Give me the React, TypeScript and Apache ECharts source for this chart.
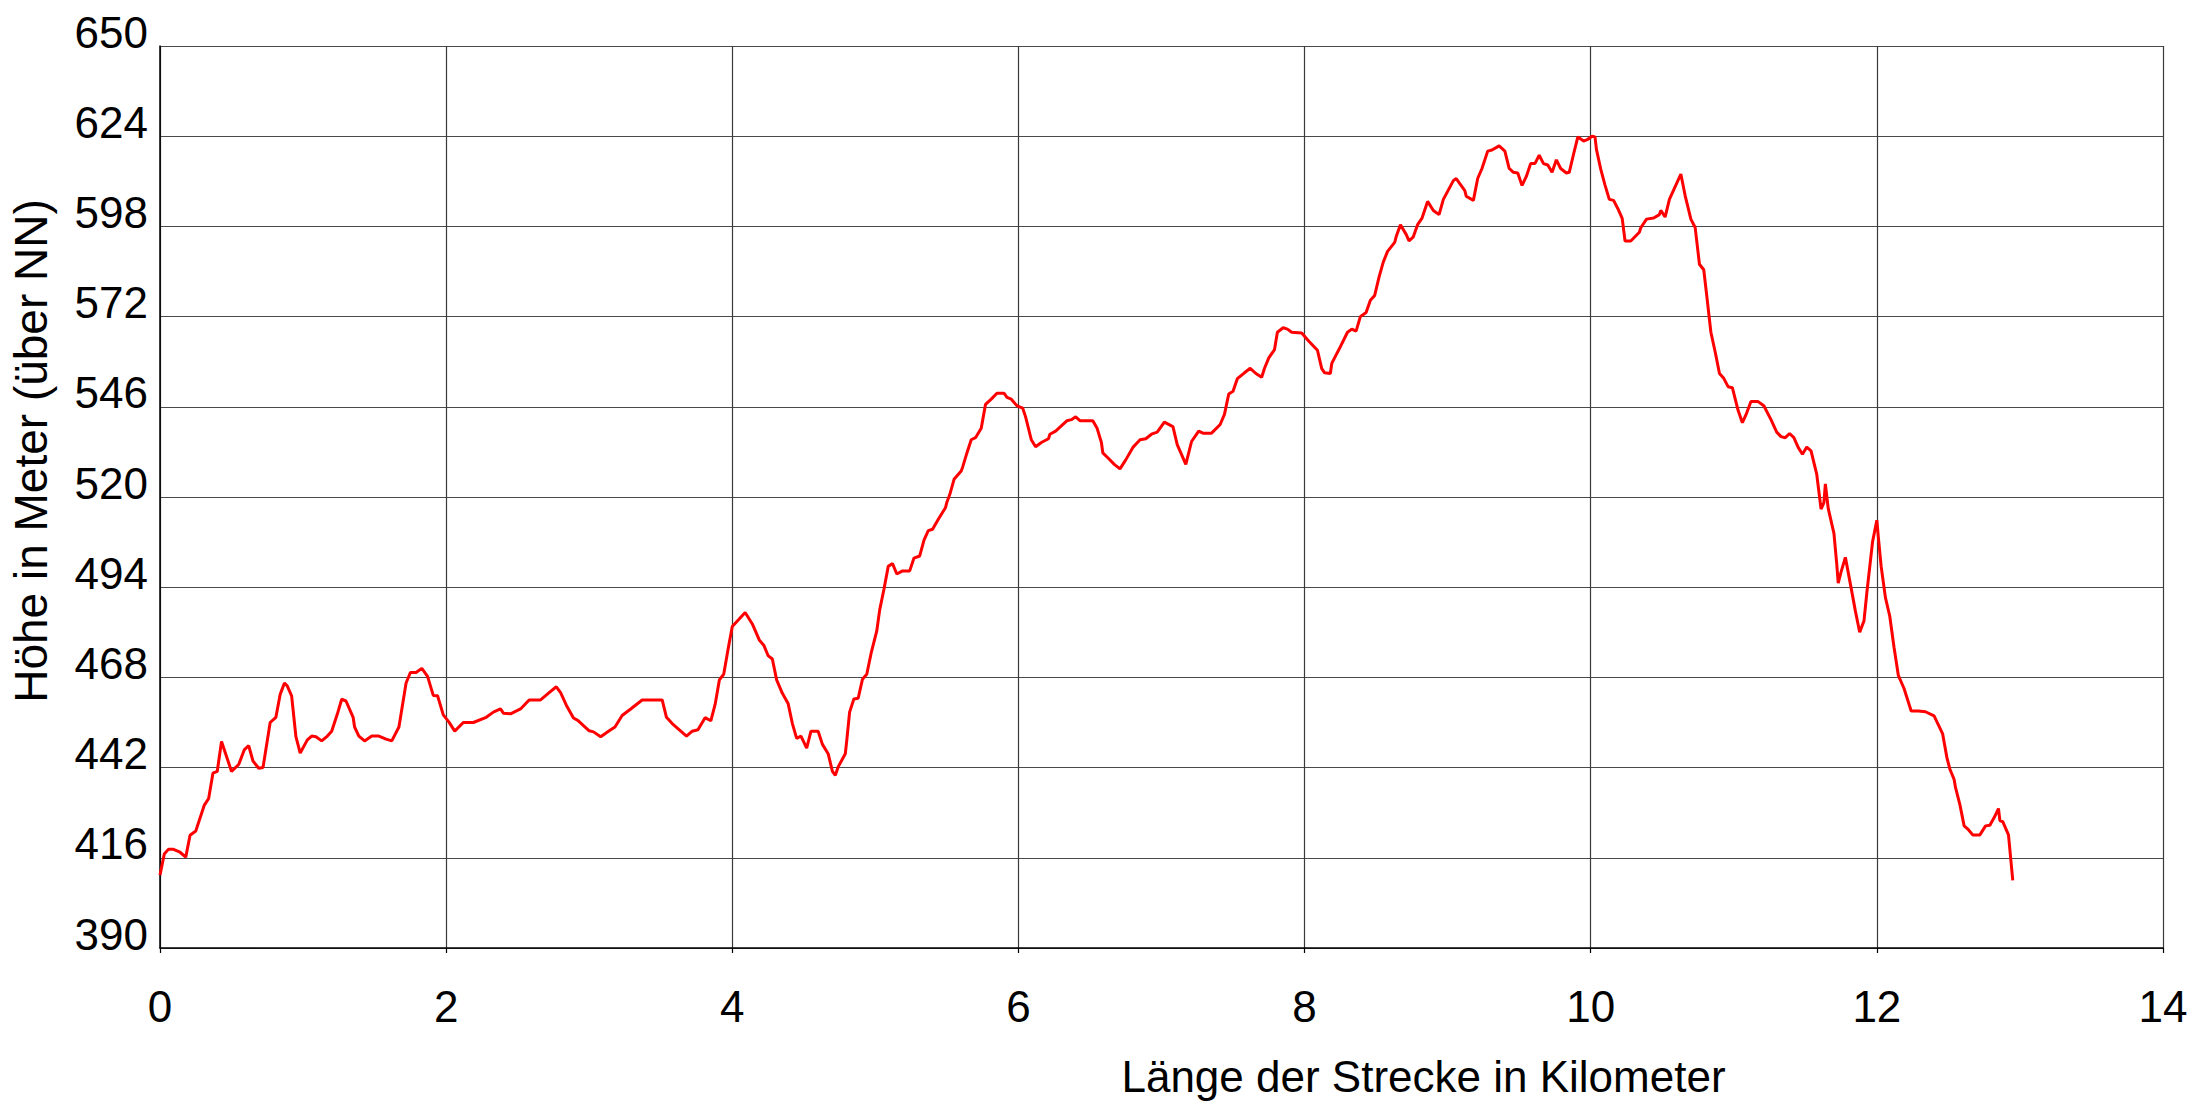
import React, { useEffect, useRef } from "react";
import * as echarts from "echarts";

// Distance along the route (km)
const distanceKm: number[] = [
  0, 0.03, 0.06, 0.09, 0.14, 0.18, 0.21, 0.25, 0.31, 0.34, 0.37, 0.40, 0.43, 0.50, 0.55, 0.59, 0.62, 0.65, 0.69, 0.72,
  0.77, 0.81, 0.84, 0.87, 0.89, 0.92, 0.95, 0.98, 1.03, 1.06, 1.09, 1.13, 1.17, 1.20, 1.24, 1.27, 1.30, 1.35, 1.36, 1.39,
  1.43, 1.48, 1.53, 1.58, 1.62, 1.67, 1.72, 1.75, 1.79, 1.83, 1.87, 1.91, 1.94, 1.98, 2.02, 2.06, 2.12, 2.19, 2.28, 2.33,
  2.38, 2.40, 2.45, 2.52, 2.58, 2.66, 2.72, 2.77, 2.80, 2.84, 2.89, 2.92, 3.00, 3.03, 3.08, 3.14, 3.18, 3.23, 3.29, 3.37,
  3.51, 3.54, 3.58, 3.64, 3.68, 3.72, 3.76, 3.81, 3.85, 3.88, 3.91, 3.94, 3.97, 4.00, 4.09, 4.14, 4.19, 4.22, 4.25, 4.28,
  4.31, 4.35, 4.39, 4.42, 4.45, 4.48, 4.52, 4.55, 4.60, 4.63, 4.67, 4.70, 4.72, 4.74, 4.79, 4.80, 4.82, 4.85, 4.88, 4.91,
  4.94, 4.97, 5.01, 5.03, 5.06, 5.09, 5.12, 5.15, 5.19, 5.24, 5.27, 5.31, 5.34, 5.37, 5.40, 5.44, 5.49, 5.50, 5.52, 5.55,
  5.60, 5.61, 5.64, 5.67, 5.70, 5.74, 5.77, 5.81, 5.85, 5.90, 5.92, 5.95, 5.99, 6.03, 6.05, 6.09, 6.12, 6.16, 6.21, 6.22,
  6.26, 6.34, 6.37, 6.40, 6.43, 6.52, 6.55, 6.58, 6.59, 6.63, 6.67, 6.71, 6.75, 6.80, 6.85, 6.89, 6.93, 6.97, 7.02, 7.07,
  7.08, 7.11, 7.17, 7.21, 7.26, 7.29, 7.35, 7.41, 7.44, 7.47, 7.50, 7.53, 7.58, 7.62, 7.66, 7.70, 7.72, 7.75, 7.79, 7.81,
  7.85, 7.88, 7.91, 7.98, 8.03, 8.09, 8.12, 8.14, 8.18, 8.19, 8.24, 8.30, 8.33, 8.36, 8.39, 8.43, 8.46, 8.49, 8.52, 8.55,
  8.58, 8.63, 8.64, 8.67, 8.71, 8.73, 8.76, 8.79, 8.82, 8.86, 8.90, 8.94, 8.97, 9.04, 9.06, 9.12, 9.13, 9.18, 9.21, 9.24,
  9.28, 9.31, 9.36, 9.40, 9.43, 9.46, 9.49, 9.52, 9.55, 9.58, 9.61, 9.64, 9.67, 9.70, 9.73, 9.76, 9.79, 9.83, 9.85, 9.88,
  9.91, 9.95, 9.98, 10.01, 10.03, 10.04, 10.07, 10.10, 10.13, 10.16, 10.19, 10.22, 10.24, 10.28, 10.34, 10.35, 10.39, 10.44, 10.48, 10.49,
  10.52, 10.55, 10.63, 10.66, 10.70, 10.73, 10.76, 10.79, 10.81, 10.84, 10.87, 10.90, 10.93, 10.96, 10.99, 11.03, 11.06, 11.09, 11.12, 11.17,
  11.21, 11.26, 11.30, 11.33, 11.36, 11.39, 11.42, 11.45, 11.48, 11.51, 11.54, 11.58, 11.61, 11.63, 11.64, 11.66, 11.70, 11.72, 11.73, 11.75,
  11.78, 11.82, 11.85, 11.88, 11.91, 11.93, 11.97, 12.00, 12.01, 12.03, 12.06, 12.09, 12.12, 12.15, 12.19, 12.21, 12.24, 12.29, 12.34, 12.40,
  12.43, 12.46, 12.49, 12.51, 12.54, 12.55, 12.58, 12.61, 12.64, 12.67, 12.72, 12.76, 12.79, 12.82, 12.85, 12.86, 12.88, 12.92, 12.95,
];

// Elevation (m above NN)
const elevationM: number[] = [
  411.0, 417.1, 418.5, 418.5, 417.6, 416.2, 422.5, 423.7, 431.2, 433.1, 440.4, 440.9, 449.5, 440.9, 442.9, 447.2, 448.3, 443.9, 441.8, 442.0,
  455.0, 456.5, 463.1, 466.4, 465.5, 462.7, 450.9, 446.2, 450.0, 451.1, 450.9, 449.7, 451.1, 452.5, 457.5, 461.7, 461.2, 456.5, 453.7, 451.1,
  449.7, 451.1, 451.1, 450.2, 449.7, 453.7, 466.4, 469.4, 469.4, 470.6, 468.3, 462.8, 462.7, 457.2, 455.1, 452.5, 455.0, 455.0, 456.5, 458.0,
  458.9, 457.7, 457.5, 458.9, 461.5, 461.5, 463.6, 465.3, 463.6, 460.0, 456.3, 455.6, 452.6, 452.3, 450.9, 452.6, 453.7, 457.0, 458.9, 461.5,
  461.5, 456.5, 454.7, 452.5, 451.1, 452.5, 452.9, 456.4, 455.5, 460.2, 467.3, 468.9, 476.0, 482.7, 486.7, 483.4, 478.7, 477.3, 474.3, 473.3,
  467.3, 463.4, 460.5, 454.7, 450.4, 451.1, 447.6, 452.5, 452.5, 448.7, 446.0, 440.9, 439.8, 442.2, 446.0, 449.8, 458.0, 461.8, 462.0, 467.5,
  468.9, 474.9, 481.4, 487.4, 493.4, 500.0, 500.8, 497.8, 498.7, 498.7, 502.4, 503.0, 507.6, 510.3, 510.7, 513.6, 516.9, 518.5, 520.7, 525.1,
  527.5, 528.6, 532.7, 536.5, 537.1, 539.8, 546.7, 548.2, 549.9, 549.9, 548.7, 548.2, 546.3, 545.6, 543.1, 536.5, 534.5, 535.7, 536.8, 538.1,
  539.0, 542.0, 542.3, 543.1, 542.0, 542.0, 539.8, 535.7, 532.7, 531.1, 529.4, 528.1, 530.7, 534.3, 536.5, 536.8, 538.1, 538.7, 541.6, 540.5,
  540.3, 535.1, 529.4, 536.0, 539.0, 538.4, 538.4, 540.9, 543.8, 549.7, 550.5, 554.1, 555.8, 557.1, 555.6, 554.5, 557.1, 560.1, 562.5, 567.5,
  568.8, 568.4, 567.5, 567.3, 564.9, 562.3, 557.0, 555.8, 555.6, 558.5, 562.5, 567.5, 568.4, 567.8, 572.0, 573.2, 576.7, 578.1, 583.3, 587.7,
  590.8, 593.4, 595.0, 598.5, 595.7, 593.8, 595.0, 598.5, 600.3, 605.2, 602.6, 601.4, 605.8, 611.2, 611.8, 608.3, 606.7, 605.5, 611.8, 614.7,
  619.7, 620.0, 621.2, 619.7, 614.7, 613.6, 613.4, 609.8, 612.4, 616.1, 616.1, 618.5, 616.1, 615.7, 613.6, 617.2, 614.7, 613.4, 613.6, 618.8,
  623.8, 622.6, 623.1, 624.0, 623.8, 620.2, 614.5, 609.9, 605.8, 605.5, 603.1, 600.3, 593.8, 593.8, 596.3, 597.6, 600.1, 600.4, 601.4, 602.6,
  600.7, 605.8, 613.1, 606.9, 600.1, 597.7, 587.1, 585.5, 578.4, 567.5, 561.8, 555.6, 554.2, 551.8, 551.5, 545.0, 541.4, 544.2, 547.5, 547.5,
  546.3, 542.3, 538.7, 537.4, 537.1, 538.3, 537.1, 534.3, 532.3, 534.4, 533.3, 526.5, 516.5, 518.4, 523.8, 516.7, 509.5, 500.5, 495.2, 498.4,
  502.6, 493.8, 487.1, 481.0, 484.3, 492.4, 507.1, 513.3, 508.6, 500.0, 491.0, 485.7, 476.7, 468.6, 464.8, 462.2, 458.3, 458.3, 458.1, 456.9,
  454.3, 451.7, 444.8, 441.6, 438.6, 436.2, 431.4, 425.2, 424.1, 422.6, 422.6, 425.2, 425.4, 427.6, 430.2, 426.7, 426.4, 422.6, 409.5,
];

const xTitle = "Länge der Strecke in Kilometer";
const yTitle = "Höhe in Meter (über NN)";
const xMin = 0;
const xMax = 14;
const xStep = 2;
const yMin = 390;
const yMax = 650;
const yStep = 26;

const FONT = "'Liberation Sans', Arial, sans-serif";

export default function App() {
  const ref = useRef<HTMLDivElement>(null);

  useEffect(() => {
    document.body.style.margin = "0";
    if (!ref.current) return;
    const chart = echarts.init(ref.current, null, { renderer: "svg" });
    const data = distanceKm.map((x, i) => [x, elevationM[i]]);
    chart.setOption({
      animation: false,
      backgroundColor: "#ffffff",
      grid: { left: 159, right: 38, top: 46, bottom: 153, containLabel: false },
      xAxis: {
        type: "value",
        min: xMin,
        max: xMax,
        interval: xStep,
        name: xTitle,
        nameLocation: "middle",
        nameGap: 106,
        nameTextStyle: {
          fontSize: 44,
          color: "#000",
          fontFamily: FONT,
          padding: [0, 0, 0, 524],
        },
        axisLine: { show: true, lineStyle: { color: "#000", width: 1.5 } },
        axisTick: { show: true, length: 5, lineStyle: { color: "#000", width: 1.2 } },
        axisLabel: { fontSize: 44, color: "#000", fontFamily: FONT, margin: 36 },
        splitLine: { show: true, lineStyle: { color: "#3a3a3a", width: 1.2 } },
      },
      yAxis: {
        type: "value",
        min: yMin,
        max: yMax,
        interval: yStep,
        name: yTitle,
        nameLocation: "middle",
        nameRotate: 90,
        nameGap: 106,
        nameTextStyle: {
          fontSize: 46,
          color: "#000",
          fontFamily: FONT,
          padding: [0, 0, 0, 92],
        },
        axisLine: { show: true, lineStyle: { color: "#000", width: 1.5 } },
        axisTick: { show: false },
        axisLabel: {
          fontSize: 44,
          color: "#000",
          fontFamily: FONT,
          margin: 12,
          verticalAlign: "bottom",
          lineHeight: 28,
        },
        splitLine: { show: true, lineStyle: { color: "#4a4a4a", width: 1.2 } },
      },
      series: [
        {
          type: "line",
          data,
          showSymbol: false,
          smooth: false,
          lineStyle: { color: "#ff0000", width: 3 },
          itemStyle: { color: "#ff0000" },
        },
      ],
    });
    return () => chart.dispose();
  }, []);

  return <div ref={ref} style={{ width: 2201, height: 1103 }} />;
}
